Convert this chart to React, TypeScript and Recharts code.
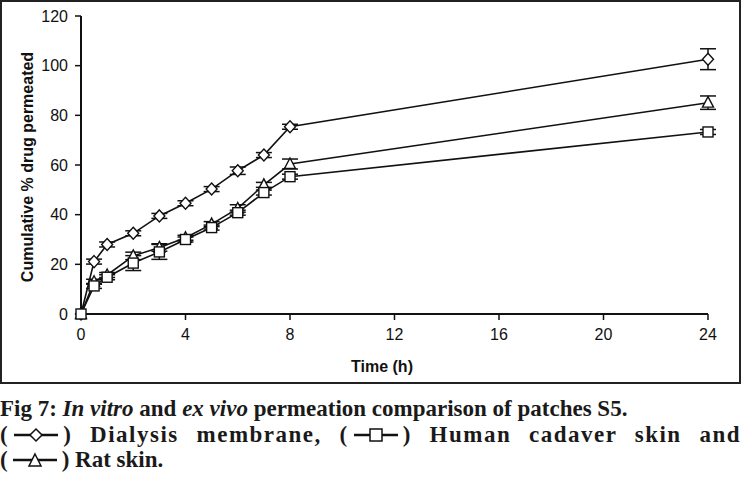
import React from 'react';
import { LineChart, Line, XAxis, YAxis, ErrorBar, Label } from 'recharts';

const times = [0, 0.5, 1, 2, 3, 4, 5, 6, 7, 8, 24];
const dialysis = [0, 21.1, 28, 32.5, 39.5, 44.6, 50.3, 57.7, 64, 75.4, 102.6];
const dialysisErr = [0, 1, 1, 1, 1, 1, 1, 1.5, 1, 1, 4.2];
const ratSkin = [0, 13, 15.7, 23.4, 26.8, 30.7, 36.2, 42.5, 52, 60.4, 85.1];
const ratSkinErr = [0, 1, 1, 1.5, 1.5, 1, 1, 1.5, 1, 2, 2.7];
const humanSkin = [0, 11.3, 14.8, 20.5, 25, 30, 34.8, 40.8, 48.9, 55.3, 73.3];
const humanSkinErr = [0, 1, 1, 3, 3, 1, 1, 1, 1, 1, 1];

const xTicks = [0, 4, 8, 12, 16, 20, 24];
const yTicks = [0, 20, 40, 60, 80, 100, 120];

const data = times.map((t, i) => ({
  t,
  dialysis: dialysis[i],
  dialysisErr: dialysisErr[i],
  rat: ratSkin[i],
  ratErr: ratSkinErr[i],
  human: humanSkin[i],
  humanErr: humanSkinErr[i],
}));

const ink = '#111';

const Marker = ({ cx, cy, shape }: any) => {
  if (cx == null || cy == null) return null;
  if (shape === 'diamond') {
    return (
      <polygon
        points={`${cx},${cy - 6} ${cx + 5.5},${cy} ${cx},${cy + 6} ${cx - 5.5},${cy}`}
        fill="#fff" stroke={ink} strokeWidth={1.4}
      />
    );
  }
  if (shape === 'square') {
    return <rect x={cx - 5} y={cy - 5} width={10} height={10} fill="#fff" stroke={ink} strokeWidth={1.4} />;
  }
  return (
    <polygon
      points={`${cx},${cy - 6} ${cx + 5.5},${cy + 4.5} ${cx - 5.5},${cy + 4.5}`}
      fill="#fff" stroke={ink} strokeWidth={1.4}
    />
  );
};

const LegendIcon = ({ shape }: { shape: string }) => (
  <svg width={46} height={16} style={{ verticalAlign: '-1px', margin: '0 4px' }}>
    <line x1={1} y1={8} x2={45} y2={8} stroke={ink} strokeWidth={2.5} />
    {shape === 'diamond' && <polygon points="23,2 29,8 23,14 17,8" fill="#fff" stroke={ink} strokeWidth={1.5} />}
    {shape === 'square' && <rect x={17} y={2} width={12} height={12} fill="#fff" stroke={ink} strokeWidth={1.5} />}
    {shape === 'triangle' && <polygon points="23,2 29,14 17,14" fill="#fff" stroke={ink} strokeWidth={1.5} />}
  </svg>
);

const captionFont: React.CSSProperties = {
  fontFamily: '"Liberation Serif", "DejaVu Serif", serif',
  fontWeight: 'bold',
  fontSize: 23,
  color: '#1a1a1a',
  position: 'absolute',
  left: 0,
  width: 741,
  whiteSpace: 'nowrap',
  lineHeight: '26px',
};

const tickStyle = { fontFamily: 'Arial, "Liberation Sans", sans-serif', fontSize: 16, fill: ink };

export default function App() {
  return (
    <div style={{ position: 'absolute', left: 0, top: 0, width: 742, height: 480, background: '#fff' }}>
      <div style={{ position: 'absolute', left: 0, top: 0, width: 741, height: 384, border: '2px solid #222', boxSizing: 'border-box' }}>
        <LineChart width={737} height={380} data={data} margin={{ top: 14, right: 31, left: 0, bottom: 0 }}>
          <XAxis
            dataKey="t"
            type="number"
            domain={[0, 24]}
            ticks={xTicks}
            height={68}
            tickSize={6}
            tickMargin={9}
            tick={tickStyle}
            axisLine={{ stroke: ink, strokeWidth: 2 }}
            tickLine={{ stroke: ink, strokeWidth: 1.5 }}
          >
            <Label
              content={() => (
                <text x={380} y={370} textAnchor="middle" fontFamily="Arial, sans-serif" fontWeight="bold" fontSize={16} fill={ink}>
                  Time (h)
                </text>
              )}
            />
          </XAxis>
          <YAxis
            type="number"
            domain={[0, 120]}
            ticks={yTicks}
            width={79}
            tickSize={6}
            tickMargin={7}
            tick={tickStyle}
            axisLine={{ stroke: ink, strokeWidth: 2 }}
            tickLine={{ stroke: ink, strokeWidth: 1.5 }}
          >
            <Label
              content={() => (
                <text
                  x={25}
                  y={165}
                  transform="rotate(-90 25 165)"
                  textAnchor="middle"
                  dominantBaseline="central"
                  fontFamily="Arial, sans-serif"
                  fontWeight="bold"
                  fontSize={16}
                  fill={ink}
                >
                  Cumulative % drug permeated
                </text>
              )}
            />
          </YAxis>
          <Line
            dataKey="dialysis"
            stroke={ink}
            strokeWidth={1.6}
            isAnimationActive={false}
            dot={(p: any) => <Marker key={`d${p.index}`} cx={p.cx} cy={p.cy} shape="diamond" />}
          >
            <ErrorBar dataKey="dialysisErr" direction="y" width={8} stroke={ink} strokeWidth={1.5} />
          </Line>
          <Line
            dataKey="rat"
            stroke={ink}
            strokeWidth={1.6}
            isAnimationActive={false}
            dot={(p: any) => <Marker key={`r${p.index}`} cx={p.cx} cy={p.cy} shape="triangle" />}
          >
            <ErrorBar dataKey="ratErr" direction="y" width={8} stroke={ink} strokeWidth={1.5} />
          </Line>
          <Line
            dataKey="human"
            stroke={ink}
            strokeWidth={1.6}
            isAnimationActive={false}
            dot={(p: any) => <Marker key={`h${p.index}`} cx={p.cx} cy={p.cy} shape="square" />}
          >
            <ErrorBar dataKey="humanErr" direction="y" width={8} stroke={ink} strokeWidth={1.5} />
          </Line>
        </LineChart>
      </div>
      <div style={{ ...captionFont, top: 396 }}>
        Fig 7: <i>In vitro</i> and <i>ex vivo</i> permeation comparison of patches S5.
      </div>
      <div style={{ ...captionFont, top: 422, letterSpacing: 1.5, textAlign: 'justify', textAlignLast: 'justify' }}>
        (<LegendIcon shape="diamond" />) Dialysis membrane, (<LegendIcon shape="square" />) Human cadaver skin and
      </div>
      <div style={{ ...captionFont, top: 447 }}>
        (<LegendIcon shape="triangle" />) Rat skin.
      </div>
    </div>
  );
}
